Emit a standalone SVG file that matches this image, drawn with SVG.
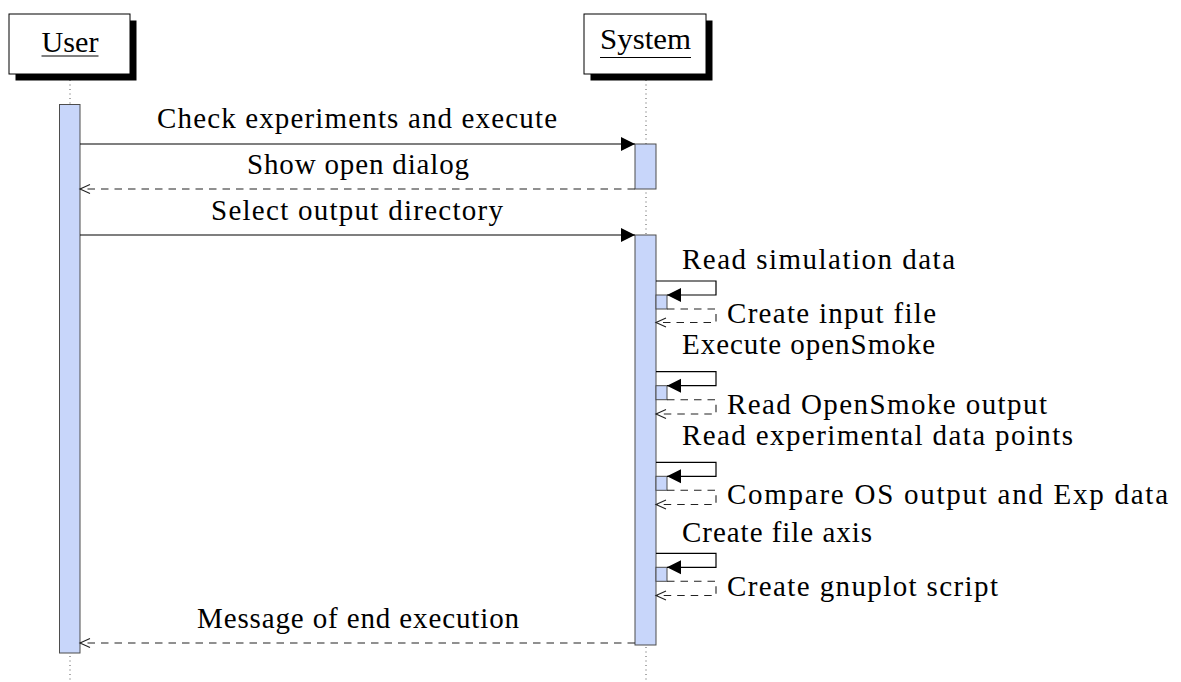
<svg xmlns="http://www.w3.org/2000/svg" width="1181" height="682" viewBox="0 0 1181 682">
  <style>
    text { font-family: "Liberation Serif", "Times New Roman", serif; font-size: 29px; fill: #000; }
    .box { fill: #fff; stroke: #000; stroke-width: 1; }
    .shadow { fill: #000; }
    .life { stroke: #555; stroke-width: 1; stroke-dasharray: 1 3.5; fill: none; }
    .act { fill: #c8d6fa; stroke: #4d4d4d; stroke-width: 1; }
    .call { stroke: #000; stroke-width: 1.2; fill: none; marker-end: url(#solidHead); }
    .ret { stroke: #222; stroke-width: 1.1; fill: none; stroke-dasharray: 7.5 6; marker-end: url(#openHead); }
    .uline { stroke: #000; stroke-width: 1.2; }
  </style>
  <defs>
    <marker id="solidHead" markerUnits="userSpaceOnUse" markerWidth="15" markerHeight="15" refX="14" refY="7" orient="auto" overflow="visible">
      <path d="M0,0 L14,7 L0,14 z" fill="#000" stroke="none"/>
    </marker>
    <marker id="openHead" markerUnits="userSpaceOnUse" markerWidth="12" markerHeight="12" refX="10" refY="4.5" orient="auto" overflow="visible">
      <path d="M0,0 L10,4.5 L0,9" fill="none" stroke="#222" stroke-width="1.1" stroke-dasharray="none"/>
    </marker>
  </defs>

  <!-- lifelines -->
  <g id="lifelines">
    <line class="life" x1="70" y1="80" x2="70" y2="682"/>
    <line class="life" x1="646" y1="80" x2="646" y2="682"/>
  </g>

  <!-- participants -->
  <g id="user">
    <rect class="shadow" x="15.5" y="20.5" width="121" height="60"/>
    <rect class="box" x="9" y="14" width="121" height="60"/>
    <text x="41.5" y="52" textLength="57" lengthAdjust="spacingAndGlyphs">User</text>
    <line class="uline" x1="41.5" y1="56" x2="98.5" y2="56"/>
  </g>
  <g id="system">
    <rect class="shadow" x="590.5" y="20.5" width="122" height="60"/>
    <rect class="box" x="584" y="14" width="122" height="60"/>
    <text x="600" y="48.5" textLength="91" lengthAdjust="spacingAndGlyphs">System</text>
    <line class="uline" x1="600" y1="57.5" x2="691" y2="57.5"/>
  </g>

  <!-- activations -->
  <g id="activations">
    <rect class="act" x="59.5" y="104.5" width="20.5" height="548.5"/>
    <rect class="act" x="635" y="144" width="21" height="45"/>
    <rect class="act" x="635" y="235" width="21" height="410"/>
    <rect class="act" x="656" y="295" width="11" height="14"/>
    <rect class="act" x="656" y="385.7" width="11" height="14"/>
    <rect class="act" x="656" y="476.3" width="11" height="14"/>
    <rect class="act" x="656" y="567.3" width="11" height="14"/>
  </g>

  <!-- messages -->
  <g id="connectors">
    <line class="call" x1="80" y1="144" x2="635" y2="144"/>
    <line class="ret" x1="635" y1="189" x2="80" y2="189"/>
    <line class="call" x1="80" y1="235" x2="635" y2="235"/>

    <path class="call" d="M656,281 H716 V295 H667"/>
    <path class="ret" d="M667,309 H716 V322.5 H656"/>

    <path class="call" d="M656,371.7 H716 V385.7 H667"/>
    <path class="ret" d="M667,399.7 H716 V414 H656"/>

    <path class="call" d="M656,462.3 H716 V476.3 H667"/>
    <path class="ret" d="M667,490.3 H716 V504.5 H656"/>

    <path class="call" d="M656,553.3 H716 V567.3 H667"/>
    <path class="ret" d="M667,581.3 H716 V595.5 H656"/>

    <line class="ret" x1="635" y1="643" x2="80" y2="643"/>
  </g>

  <!-- message labels -->
  <g id="labels">
    <text x="157" y="128" textLength="400" lengthAdjust="spacing">Check experiments and execute</text>
    <text x="247" y="174" textLength="222" lengthAdjust="spacing">Show open dialog</text>
    <text x="211" y="220" textLength="292" lengthAdjust="spacing">Select output directory</text>
    <text x="682" y="269.3" textLength="273" lengthAdjust="spacing">Read simulation data</text>
    <text x="727" y="323.3" textLength="209" lengthAdjust="spacing">Create input file</text>
    <text x="682" y="354.3" textLength="253" lengthAdjust="spacing">Execute openSmoke</text>
    <text x="727" y="414.3" textLength="320" lengthAdjust="spacing">Read OpenSmoke output</text>
    <text x="682" y="445" textLength="391" lengthAdjust="spacing">Read experimental data points</text>
    <text x="727" y="504.3" textLength="441" lengthAdjust="spacing">Compare OS output and Exp data</text>
    <text x="682" y="541.7" textLength="190" lengthAdjust="spacing">Create file axis</text>
    <text x="727" y="596" textLength="271" lengthAdjust="spacing">Create gnuplot script</text>
    <text x="197" y="628" textLength="322" lengthAdjust="spacing">Message of end execution</text>
  </g>
</svg>
